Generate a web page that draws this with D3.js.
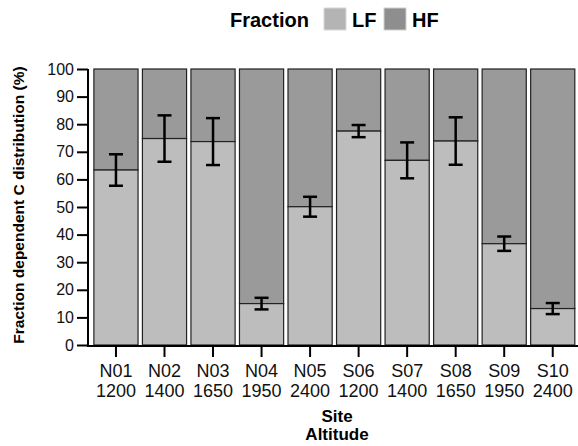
<!DOCTYPE html>
<html>
<head>
<meta charset="utf-8">
<script src="https://cdn.jsdelivr.net/npm/d3@7"></script>
<style>
  body { margin: 0; background: #fff; }
  svg { font-family: "Liberation Sans", Arial, sans-serif; }
</style>
</head>
<body>
<div id="chart"></div>
<script>
// data
var sites = ["N01", "N02", "N03", "N04", "N05", "S06", "S07", "S08", "S09", "S10"];
var altitudes = ["1200", "1400", "1650", "1950", "2400", "1200", "1400", "1650", "1950", "2400"];
var lfValues = [63.4, 74.8, 73.7, 15.0, 50.1, 77.5, 66.9, 73.9, 36.7, 13.2];
var lfErrors = [5.7, 8.4, 8.5, 2.1, 3.6, 2.2, 6.5, 8.6, 2.6, 2.0];
var yTicks = [0, 10, 20, 30, 40, 50, 60, 70, 80, 90, 100];

var W = 578, H = 446;
var svg = d3.select("#chart").append("svg").attr("width", W).attr("height", H);

//scales
var x = d3.scaleBand().domain(sites).range([91.7, 577]).paddingInner(0.09).paddingOuter(0.045);
var y = d3.scaleLinear().domain([0, 100]).range([345, 69]);

var colLF = "#bdbdbd", colHF = "#9a9a9a";

var bars = svg.append("g").selectAll("g").data(sites).enter().append("g");

// HF on top, LF below
bars.append("rect")
  .attr("x", function (d) { return x(d); })
  .attr("width", x.bandwidth())
  .attr("y", y(100))
  .attr("height", function (d, i) { return y(lfValues[i]) - y(100); })
  .attr("fill", colHF).attr("stroke", "#222").attr("stroke-width", 1.2);
bars.append("rect")
  .attr("x", function (d) { return x(d); })
  .attr("width", x.bandwidth())
  .attr("y", function (d, i) { return y(lfValues[i]); })
  .attr("height", function (d, i) { return y(0) - y(lfValues[i]); })
  .attr("fill", colLF).attr("stroke", "#222").attr("stroke-width", 1.2);

// error bars
var eb = bars.append("g").attr("stroke", "#000").attr("stroke-width", 2.5);
eb.append("line")
  .attr("x1", function (d) { return x(d) + x.bandwidth() / 2; })
  .attr("x2", function (d) { return x(d) + x.bandwidth() / 2; })
  .attr("y1", function (d, i) { return y(lfValues[i] + lfErrors[i]); })
  .attr("y2", function (d, i) { return y(lfValues[i] - lfErrors[i]); });
[1, -1].forEach(function (s) {
  eb.append("line")
    .attr("x1", function (d) { return x(d) + x.bandwidth() / 2 - 7; })
    .attr("x2", function (d) { return x(d) + x.bandwidth() / 2 + 7; })
    .attr("y1", function (d, i) { return y(lfValues[i] + s * lfErrors[i]); })
    .attr("y2", function (d, i) { return y(lfValues[i] + s * lfErrors[i]); });
});

// y axis
var yAxis = svg.append("g").attr("transform", "translate(88,0)")
  .call(d3.axisLeft(y).tickValues(yTicks).tickSize(11).tickPadding(3));
yAxis.select(".domain").attr("d", "M0," + y(100) + "V" + (y(0) + 1));
yAxis.selectAll("text").attr("font-size", 16).attr("fill", "#111").attr("font-family", "Liberation Sans, Arial, sans-serif");

// x axis
var xAxis = svg.append("g").attr("transform", "translate(0,346)")
  .call(d3.axisBottom(x).tickSize(11).tickFormat(""));
xAxis.select(".domain").attr("d", "M87,0H578");
svg.selectAll(".domain, .tick line").attr("stroke", "#000").attr("stroke-width", 2);

var xl = svg.append("g").selectAll("text").data(sites).enter().append("text")
  .attr("x", function (d) { return x(d) + x.bandwidth() / 2; })
  .attr("text-anchor", "middle").attr("font-size", 18).attr("fill", "#111");
xl.append("tspan").attr("x", function (d) { return x(d) + x.bandwidth() / 2; })
  .attr("y", 377).text(function (d) { return d; });
xl.append("tspan").attr("x", function (d) { return x(d) + x.bandwidth() / 2; })
  .attr("y", 397).text(function (d, i) { return altitudes[i]; });

// axis titles
svg.append("text").attr("x", 337).attr("y", 422).attr("text-anchor", "middle")
  .attr("font-size", 17).attr("font-weight", "bold").text("Site");
svg.append("text").attr("x", 337).attr("y", 440).attr("text-anchor", "middle")
  .attr("font-size", 17).attr("font-weight", "bold").text("Altitude");
svg.append("text").attr("transform", "translate(24,205) rotate(-90)")
  .attr("text-anchor", "middle").attr("font-size", 15.5).attr("font-weight", "bold")
  .text("Fraction dependent C distribution (%)");

// legend
var leg = svg.append("g");
leg.append("text").attr("x", 230).attr("y", 27).attr("font-size", 20).attr("font-weight", "bold").text("Fraction");
leg.append("rect").attr("x", 324).attr("y", 8).attr("width", 22).attr("height", 22).attr("fill", "#b4b4b4").attr("stroke", "#d8d8d8");
leg.append("text").attr("x", 352).attr("y", 27).attr("font-size", 20).attr("font-weight", "bold").text("LF");
leg.append("rect").attr("x", 384).attr("y", 8).attr("width", 22).attr("height", 22).attr("fill", "#8e8e8e").attr("stroke", "#cfcfcf");
leg.append("text").attr("x", 412).attr("y", 27).attr("font-size", 20).attr("font-weight", "bold").text("HF");
</script>
</body>
</html>
